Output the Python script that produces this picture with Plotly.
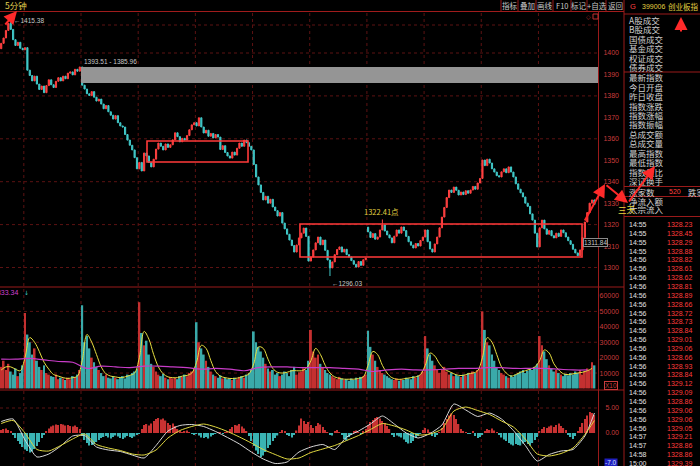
import plotly.graph_objects as go

W, H = 700, 466
def px(x): return x / W
def py(y): return 1 - y / H

# ---------------- data ----------------
first_open = 1402.0
closes = [
    1404.5, 1407.0, 1410.5, 1413.8, 1411.0, 1406.2, 1403.5, 1405.0, 1402.2, 1401.5,
    1402.5, 1392.0, 1389.5, 1387.0, 1389.2, 1385.5, 1383.0, 1384.6, 1381.5, 1384.8, 1387.5, 1385.2,
    1383.9, 1386.8, 1388.5, 1387.0, 1389.2, 1388.0, 1390.6, 1391.2, 1389.8, 1392.4, 1391.5, 1393.5,
    1385.0, 1383.2, 1381.0, 1380.2, 1382.0, 1379.4, 1377.6, 1378.5, 1376.2, 1374.0, 1375.5, 1372.6,
    1371.0, 1369.2, 1370.8, 1367.5, 1366.0, 1365.5, 1362.0, 1359.4, 1357.0, 1354.8, 1351.2, 1346.0,
    1349.0, 1345.0, 1353.4, 1352.0, 1349.0, 1346.9, 1350.5, 1355.2, 1358.0, 1356.5, 1354.8, 1357.6,
    1356.0, 1357.2, 1359.5, 1362.8, 1361.0, 1358.6, 1360.2, 1359.4, 1361.5, 1364.2, 1366.5, 1367.5,
    1366.0, 1369.8, 1365.5, 1362.7, 1364.0, 1361.2, 1362.5, 1360.4, 1362.0, 1360.8, 1355.0, 1356.8,
    1353.6, 1352.0, 1351.0, 1353.8, 1352.4, 1355.6, 1358.0, 1356.5, 1359.4, 1358.2, 1356.5, 1354.8,
    1348.0, 1342.2, 1338.5, 1335.0, 1331.5, 1333.2, 1330.0, 1331.8, 1328.2, 1326.5, 1324.0, 1325.6,
    1320.7, 1318.0, 1315.5, 1312.8, 1310.2, 1307.2, 1310.5, 1313.8, 1316.0, 1318.4, 1314.5, 1303.0,
    1304.9, 1308.2, 1311.5, 1314.2, 1310.6, 1312.8, 1308.0, 1303.5, 1299.8, 1302.6, 1306.0, 1308.4,
    1309.6, 1307.2, 1308.5, 1306.0, 1304.9, 1303.2, 1301.5, 1300.2, 1302.8, 1301.0, 1303.6, 1304.4,
    1316.6, 1314.0, 1315.8, 1313.2, 1314.2, 1317.5, 1319.8, 1317.0, 1315.2, 1313.8, 1311.5, 1314.6,
    1317.5, 1316.0, 1318.9, 1317.2, 1314.5, 1312.0, 1310.4, 1309.1, 1311.2, 1310.0, 1312.6, 1314.2,
    1317.5, 1312.0, 1308.6, 1307.2, 1311.0, 1314.2, 1318.5, 1323.5, 1328.0, 1332.6, 1336.1, 1335.0,
    1337.5, 1336.0, 1333.8, 1335.2, 1334.0, 1335.8, 1334.6, 1336.1, 1337.8, 1336.5, 1339.4, 1341.5,
    1350.1, 1347.5, 1350.5, 1348.7, 1346.0, 1344.5, 1342.8, 1342.2, 1344.6, 1346.0, 1344.2, 1346.9,
    1344.5, 1342.2, 1339.0, 1336.5, 1334.8, 1332.9, 1330.0, 1328.5, 1325.0, 1322.1, 1316.0, 1309.6,
    1318.5, 1322.1, 1318.0, 1315.5, 1317.2, 1314.8, 1313.8, 1316.0, 1314.5, 1317.5, 1316.2, 1314.2,
    1312.5, 1310.8, 1308.5, 1306.8, 1305.5, 1308.2, 1314.0, 1321.2, 1325.6, 1330.0, 1331.5, 1329.39,
]
open_gaps = {154: 1318.8}
extreme_high = {4: 1415.38, 160: 1322.41}
extreme_low = {138: 1296.03}

volumes = [
    14000, 18000, 12000, 16000, 11000, 9000, 13000, 8000, 10000, 15000,
    49000, 35000, 30000, 22000, 26000, 18000, 14000, 12000, 15000, 10000, 9000, 8000, 7500, 9000,
    6000, 7000, 6500, 5500, 7000, 6000, 8000, 7500, 9000, 12000,
    54000, 30000, 34000, 26000, 20000, 17000, 14000, 12000, 10000, 8000, 9000, 7000, 6500, 8000,
    7000, 6000, 7500, 8000, 6500, 9000, 8500, 10000, 11000, 13000,
    56000, 36000, 28000, 31000, 22000, 16000, 14000, 11000, 9000, 8000, 9500, 7000, 6000, 7500,
    6500, 7000, 6000, 8000, 7500, 9000, 8000, 10000, 11000, 12500,
    43000, 30000, 26000, 22000, 18000, 14000, 11000, 9000, 8000, 7000, 8500, 6500, 7000, 6000,
    6500, 5500, 7000, 6000, 7500, 8000, 7000, 9000, 10000, 12000,
    37000, 30000, 27000, 24000, 20000, 16000, 13000, 11000, 12000, 9000, 10000, 8000, 9000, 11000,
    10000, 8000, 12000, 14000, 9000, 10500, 11000, 13000, 12000, 18000,
    38000, 24000, 20000, 22000, 16000, 14000, 12000, 10000, 9000, 8000, 7000, 6000, 7500, 6500,
    5500, 6000, 5000, 6500, 5500, 7000, 6000, 7500, 8000, 9000,
    37500, 27000, 22000, 18000, 14000, 12000, 10000, 9000, 8000, 7000, 6000, 5500, 6500, 5000,
    6000, 5500, 7000, 6500, 6000, 8000, 7000, 8500, 9000, 11000,
    34000, 26000, 22000, 18000, 15000, 12000, 10000, 12000, 14000, 11000, 9000, 10000, 8000, 9000,
    8000, 7500, 9000, 8500, 10000, 9500, 11000, 10000, 12000, 13000,
    50000, 38000, 30000, 28000, 22000, 18000, 14000, 12000, 10000, 9000, 8000, 7000, 8500, 7500,
    9000, 10000, 11000, 12000, 10000, 11500, 13000, 12000, 14000, 16000,
    34000, 28000, 24000, 19000, 15000, 13000, 11000, 12000, 10000, 9000, 8000, 9500, 8500, 10000,
    9000, 11000, 10000, 12000, 9000, 11000, 13000, 12000, 17000, 15000,
]
vol_ma_short = [  # read every 2 bars
    12000, 14000, 14000, 12500, 11500, 20000, 33000, 30000, 24000, 17000, 12500, 9000, 8000, 7000, 6500, 7000, 8000,
    18000, 35000, 30000, 22000, 14000, 9500, 8000, 7500, 7000, 7500, 8500, 10000,
    20000, 37000, 32000, 22000, 14000, 9500, 7500, 7000, 7000, 8000, 8500, 10000,
    17000, 28000, 26000, 18000, 11000, 8000, 7000, 6500, 6500, 7000, 8000, 9500,
    16000, 27000, 26000, 19000, 13000, 10500, 10000, 10500, 11500, 11500, 11500, 13000,
    18000, 26000, 22000, 15000, 10000, 7500, 6500, 6000, 6000, 6000, 6500, 7500,
    15000, 24000, 22000, 15000, 10000, 7000, 6000, 6000, 6500, 7000, 7500, 9000,
    15000, 23000, 21000, 16000, 12500, 11000, 9500, 8500, 8500, 9500, 10000, 11500,
    20000, 33000, 30000, 22000, 14000, 10000, 8000, 9000, 10500, 11500, 12500, 14000,
    18000, 25000, 23000, 16000, 12000, 9500, 9000, 9500, 10000, 10500, 11500, 13000,
]
vol_ma_long = [  # read every 6 bars
    19000, 19000, 19500, 18500, 17500, 17000, 13000, 14500, 14000, 13500, 14500, 14500, 14000, 13500,
    12500, 13000, 12500, 11500, 13500, 14000, 14000, 13500, 13500, 13500, 13000, 12500, 11000, 12000,
    12500, 12000, 12000, 12500, 13000, 13000, 13500, 13500, 13000, 13000, 13000, 12500, 12000, 12000,
]
macd_hist = [
    0.6, 0.8, 0.9, 0.6, 0.3,
    -0.4, -1.0, -1.6, -2.2, -2.8, -3.3, -3.6, -3.9, -3.7, -3.2, -2.6, -1.8, -1.0, -0.4,
    0.4, 0.9, 1.3, 1.5, 1.7, 1.6, 1.8, 1.7, 1.5, 1.6, 1.4, 1.3, 1.5, 1.2, 0.8,
    -0.6, -1.4, -2.0, -2.5, -2.4, -2.2, -1.8, -1.4, -1.0, -0.8,
    -0.6, -0.9, -1.1, -0.8, -0.5, -0.7, -1.0, -1.2, -0.9, -0.6, -0.8, -1.0, -0.7, -0.4, -0.2,
    0.8, 1.6, 1.8,
    1.5, 1.9, 2.4, 2.8, 3.0, 2.7, 2.9, 2.5, 2.0, 1.6, 1.9, 1.4,
    0.8, 0.4, 0.2, 0.3, 0.5, 0.2, -0.1, -0.3, -0.2,
    -0.5, -0.9, -1.0, -0.8, -1.1, -0.7, -0.4, -0.2,
    0.1, 0.2, -0.1, 0.2, 0.4,
    0.8, 1.2, 1.6, 1.5, 1.8, 1.3, 0.9, 0.4,
    -0.6, -1.6, -2.6, -3.5, -4.2, -4.8, -4.5, -3.8, -3.0, -2.4, -1.6, -1.0, -0.5, 0.2,
    0.6, 0.4, -0.3, -0.6, -0.9, -0.4, 0.5,
    1.5, 2.9, 2.4, 1.8, 2.2, 1.6, 1.0,
    1.4, 2.0, 1.7, 1.2, 0.6, 0.2, -0.3,
    -0.5, 0.3, 0.6, 0.2, -0.4, -1.2, -1.5, -0.8, -0.3, 0.4, 0.5, 0.2, -0.2, 0.3,
    0.8, 1.6, 2.2, 2.6, 3.0, 3.2, 2.9, 2.4, 2.0, 1.4, 0.8,
    -0.4, -0.8, -0.5, -0.7, -0.9, -1.3,
    -1.8, -2.1, -2.0, -1.6, -1.0, -0.6, -0.2,
    0.6, 1.0, 0.7, 0.2,
    -0.6, -0.8, -0.4, 0.2,
    1.0, 2.0, 2.8, 3.5, 3.9, 3.6, 2.8, 1.8,
    0.8, 0.4, 0.2, -0.2, -0.1, 0.3,
    -0.6, -1.0, -0.8, -0.3, 0.4, 0.8, 0.6,
    0.9, 0.5, 0.1,
    -0.4, -0.9, -1.3, -1.6, -2.0, -2.3, -2.5, -2.2, -2.4, -2.5, -2.1, -1.8, -2.2, -2.5, -2.0, -1.4, -0.8,
    0.3, 0.8, 1.2, 1.0, 1.3, 1.5, 1.2, 1.6, 1.9, 1.4, 1.0, 0.6,
    -0.3, -0.8, -1.2, -0.6,
    0.4, 1.2, 2.0, 2.8, 3.5, 4.2, 4.0, 3.6,
]
dif_line = [  # read every 5 bars, plus the last bar
    2.3, 2.8, -1.4, -4.8, -4.2, -2.6, -0.6, -0.5, -2.8, -3.4,
    -3.7, -4.4, -5.0, -2.5, 0.4, 1.5, 1.7, 1.3, 0.3, -0.9,
    -2.2, -3.8, -5.2, -6.1, -5.8, -3.8, -2.8, -2.3, -3.3, -0.8,
    0.4, 1.8, 3.4, 1.8, 0.0, -1.0, -0.1, 1.6, 5.8, 4.6,
    3.3, 4.0, 2.8, 0.5, -2.5, -5.6, -4.3, -3.6, -3.3, -0.6, 4.0,
]
dea_line = [
    1.9, 2.5, 0.0, -3.3, -3.6, -2.5, -1.2, -0.2, -2.3, -3.0,
    -3.5, -4.2, -4.4, -3.4, -1.0, 0.5, 1.3, 1.8, 1.2, 0.3,
    -0.8, -2.0, -3.3, -4.3, -5.2, -5.0, -3.9, -3.2, -2.5, -1.5,
    -0.5, 0.7, 1.9, 1.4, 0.6, -0.4, -0.2, 0.8, 4.4, 5.2,
    4.5, 3.7, 2.4, 1.2, -1.2, -4.2, -4.6, -4.1, -3.0, -0.3, 2.5,
]
band_low, band_high = 1385.96, 1393.51
box1 = (1349.2, 1359.0)
box2 = (1304.9, 1320.3)
price_ticks = [1300, 1310, 1320, 1330, 1340, 1350, 1360, 1370, 1380, 1390, 1400]
vol_ticks = [10000, 20000, 30000, 40000, 50000, 60000]
macd_ticks = [0, 5]
toolbar = ["指标", "叠加", "画线", "F10", "标记", "+自选", "返回"]
panel_group1 = ["A股成交", "B股成交", "国债成交", "基金成交", "权证成交", "债券成交"]
panel_group2 = ["最新指数", "今日开盘", "昨日收盘", "指数涨跌", "指数涨幅", "指数振幅",
                "总成交额", "总成交量", "最高指数", "最低指数", "指数量比", "深证换手"]
rise_count = "520"
tick_times = ["14:55"] * 4 + ["14:56"] * 20 + ["14:57", "14:57", "14:58", "15:00"]
tick_prices = ["1328.23", "1328.45", "1328.29", "1328.88", "1328.82", "1328.61", "1328.62",
               "1328.81", "1328.89", "1328.66", "1328.72", "1328.73", "1328.84", "1329.01",
               "1329.06", "1328.66", "1328.93", "1328.84", "1329.12", "1329.09", "1328.86",
               "1329.06", "1329.06", "1329.05", "1329.21", "1328.86", "1328.86", "1329.39"]

# ---------------- derived ----------------
n = len(closes)
idx = list(range(n))
opens = [first_open] + closes[:-1]
for k, v in open_gaps.items():
    opens[k] = v
highs = [max(o, c) for o, c in zip(opens, closes)]
lows = [min(o, c) for o, c in zip(opens, closes)]
for k, v in extreme_high.items():
    highs[k] = v
for k, v in extreme_low.items():
    lows[k] = v
up = [c >= o for o, c in zip(opens, closes)]

RED = "#ff4040"
CYAN = "#40c8c8"
BORDER = "#9a1a1a"
GRID = "#5c1212"

fig = go.Figure()
fig.add_trace(go.Candlestick(
    x=idx, open=opens, high=highs, low=lows, close=closes,
    increasing=dict(line=dict(color=RED, width=1), fillcolor=RED),
    decreasing=dict(line=dict(color=CYAN, width=1), fillcolor=CYAN),
    whiskerwidth=0, showlegend=False, hoverinfo="skip", xaxis="x", yaxis="y"))

fig.add_trace(go.Bar(
    x=list(range(len(volumes))), y=volumes, width=0.8,
    marker=dict(color=["#c43030" if u else "#3aaaaa" for u in up], line=dict(width=0)),
    showlegend=False, hoverinfo="skip", xaxis="x2", yaxis="y2"))
fig.add_trace(go.Scatter(
    x=list(range(0, 2 * len(vol_ma_short), 2)), y=vol_ma_short, mode="lines",
    line=dict(color="#e8e040", width=1, shape="spline"), showlegend=False,
    hoverinfo="skip", xaxis="x2", yaxis="y2"))
fig.add_trace(go.Scatter(
    x=list(range(0, 6 * len(vol_ma_long), 6)), y=vol_ma_long, mode="lines",
    line=dict(color="#c83cc8", width=1.2, shape="spline"), showlegend=False,
    hoverinfo="skip", xaxis="x2", yaxis="y2"))

fig.add_trace(go.Bar(
    x=list(range(len(macd_hist))), y=macd_hist, width=0.55,
    marker=dict(color=["#c83232" if v >= 0 else "#3ab4b4" for v in macd_hist], line=dict(width=0)),
    showlegend=False, hoverinfo="skip", xaxis="x3", yaxis="y3"))
line_x = list(range(0, 250, 5)) + [n - 1]
fig.add_trace(go.Scatter(
    x=line_x, y=dif_line, mode="lines", line=dict(color="#d8d8d8", width=1, shape="spline", smoothing=0.6),
    showlegend=False, hoverinfo="skip", xaxis="x3", yaxis="y3"))
fig.add_trace(go.Scatter(
    x=line_x, y=dea_line, mode="lines", line=dict(color="#e0d840", width=1, shape="spline", smoothing=0.6),
    showlegend=False, hoverinfo="skip", xaxis="x3", yaxis="y3"))

bar_px = 598 / (n + 1)
x_range = [-0.5, 622 / bar_px - 0.5]
tickfont = dict(family="Liberation Sans", size=7, color="#c83c3c")
xcommon = dict(domain=[0, px(622)], range=x_range, visible=False, fixedrange=True)
ycommon = dict(side="right", ticklabelposition="inside", ticks="", showgrid=False,
               zeroline=False, showline=False, tickfont=tickfont, fixedrange=True)

fig.update_layout(
    width=W, height=H, autosize=False,
    margin=dict(l=0, r=0, t=0, b=0, pad=0),
    paper_bgcolor="black", plot_bgcolor="black",
    font=dict(family="Noto Sans CJK SC", color="#d0d0d0"),
    xaxis=dict(xcommon, anchor="y", rangeslider=dict(visible=False)),
    xaxis2=dict(xcommon, anchor="y2", matches="x"),
    xaxis3=dict(xcommon, anchor="y3", matches="x"),
    yaxis=dict(ycommon, anchor="x", domain=[py(287), py(12)],
               range=[1300 - 19.5 / 2.145, 1400 + 41 / 2.145],
               tickvals=price_ticks, ticktext=[str(v) for v in price_ticks]),
    yaxis2=dict(ycommon, anchor="x2", domain=[py(390), py(287)], range=[-1000, 65850],
                tickvals=vol_ticks, ticktext=[str(v) for v in vol_ticks]),
    yaxis3=dict(ycommon, anchor="x3", domain=[0, py(390)], range=[-6.6, 8.6],
                tickvals=macd_ticks, ticktext=["%.2f" % v for v in macd_ticks]),
    showlegend=False,
)

shapes = []
# vertical day grid
for k in range(10):
    b = 9.5 + 24 * k
    shapes.append(dict(type="line", xref="x", yref="paper", x0=b, x1=b, y0=0, y1=py(12),
                       line=dict(color=GRID, width=1, dash="dot"), layer="below"))
for v in [1300, 1320, 1340, 1360, 1380, 1400]:
    shapes.append(dict(type="line", xref="paper", yref="y", x0=0, x1=px(598), y0=v, y1=v,
                       line=dict(color=GRID, width=1, dash="dot"), layer="below"))
shapes.append(dict(type="line", xref="paper", yref="paper", x0=0, x1=px(598), y0=py(25), y1=py(25),
                   line=dict(color=GRID, width=1, dash="dot"), layer="below"))
for v in [10000, 30000, 50000]:
    shapes.append(dict(type="line", xref="paper", yref="y2", x0=0, x1=px(598), y0=v, y1=v,
                       line=dict(color=GRID, width=1, dash="dot"), layer="below"))
shapes.append(dict(type="line", xref="paper", yref="y3", x0=0, x1=px(598), y0=5, y1=5,
                   line=dict(color=GRID, width=1, dash="dot"), layer="below"))
# grey band
shapes.append(dict(type="rect", xref="x", yref="y", x0=33.5, x1=n + 0.5, y0=band_low, y1=band_high,
                   fillcolor="#959595", line=dict(width=0), layer="above"))
# red boxes
shapes.append(dict(type="rect", xref="x", yref="y", x0=61.2, x1=103.6, y0=box1[0], y1=box1[1],
                   line=dict(color="#ff3a3a", width=1.6), fillcolor="rgba(0,0,0,0)"))
shapes.append(dict(type="rect", xref="x", yref="y", x0=125.4, x1=243.8, y0=box2[0], y1=box2[1],
                   line=dict(color="#ff3a3a", width=1.6), fillcolor="rgba(0,0,0,0)"))
# frame lines
def hline(y, x0, x1, color=BORDER, w=1):
    shapes.append(dict(type="line", xref="paper", yref="paper", x0=px(x0), x1=px(x1),
                       y0=py(y), y1=py(y), line=dict(color=color, width=w)))
def vline(x, y0, y1, color=BORDER, w=1):
    shapes.append(dict(type="line", xref="paper", yref="paper", x0=px(x), x1=px(x),
                       y0=py(y0), y1=py(y1), line=dict(color=color, width=w)))
hline(11.5, 0, 624, "#a01c1c")
hline(287, 0, 624)
hline(390, 0, 624)
vline(598.5, 11.5, 466)
vline(624, 0, 466)
for y in [14, 72, 186.5, 196.5, 216.5]:
    hline(y, 624, 700)
for x in [501, 518, 536, 553, 571, 587, 606]:
    vline(x, 0, 11.5)
# small icon box top right of chart
shapes.append(dict(type="rect", xref="paper", yref="paper", x0=px(593), x1=px(598), y0=py(19), y1=py(14),
                   line=dict(color="#c03030", width=1), fillcolor="rgba(0,0,0,0)"))
fig.update_layout(shapes=shapes)

ann = []
def text(x, y, t, size=8.5, color="#d0d0d0", xanchor="left", family="Noto Sans CJK SC", **kw):
    ann.append(dict(xref="paper", yref="paper", x=px(x), y=py(y), text=t, showarrow=False,
                    xanchor=xanchor, yanchor="middle", font=dict(size=size, color=color, family=family), **kw))

text(3, 5.5, "5分钟", size=8.5, color="#e0d050")
for t, cx in zip(toolbar, [509.5, 527, 544.5, 562, 579, 596.5, 615]):
    text(cx, 5.5, t, size=7.5, color="#c8c8c8", xanchor="center")
text(588, 16, "◇", size=6, color="#c03030", xanchor="center", family="DejaVu Sans")
text(628, 7, "G", size=7.5, color="#ff4040", family="Liberation Sans")
text(641, 7, "399006", size=7, color="#e0d040", family="Liberation Sans", borderpad=0)
text(700, 7, "创业板指", size=7.5, color="#e0d040", xanchor="right", borderpad=0)
for k, t in enumerate(panel_group1):
    text(627, 20 + 9.4 * k, t)
for k, t in enumerate(panel_group2):
    text(627, 77.3 + 9.43 * k, t)
text(627, 191.5, "涨家数")
text(683, 191.5, rise_count, size=7, color="#ff4040", xanchor="right", family="Liberation Sans")
text(686, 191.5, "跌家数")
text(627, 200.5, "净流入额")
text(627, 209.5, "大宗流入")
text(616, 209.5, "三天", color="#e8d840")
for k, (tm, pr) in enumerate(zip(tick_times, tick_prices)):
    yy = 224.5 + 8.85 * k
    text(627, yy, tm, size=7, color="#e0e0e0", family="Liberation Sans")
    text(694, yy, pr, size=7, color="#ff3c3c", xanchor="right", family="Liberation Sans")
text(611, 385, "X10", size=6.5, color="#c83c3c", xanchor="center", family="Liberation Sans",
     bordercolor="#c83c3c", borderwidth=1, borderpad=0)
text(611, 462, "-7.0", size=6.5, color="#d0e0ff", xanchor="center", family="Liberation Sans",
     bgcolor="#2020c0", borderpad=0)
text(20, 292, "2333.34", size=7, color="#d040d0", xanchor="right", family="Liberation Sans")
text(22, 292, "↓", size=6, color="#40c8c8", family="DejaVu Sans")

# data-anchored labels
ann.append(dict(xref="x", yref="y", x=4, y=1415.38, text="←1415.38", showarrow=False, xanchor="left",
                xshift=1, font=dict(size=6.5, color="#c8c8c8", family="Liberation Sans")))
ann.append(dict(xref="x", yref="y", x=33.8, y=band_high, text="1393.51 - 1385.96", showarrow=False,
                xanchor="left", yanchor="bottom", font=dict(size=6.5, color="#c8c8c8", family="Liberation Sans")))
ann.append(dict(xref="x", yref="y", x=159.5, y=1322.41, text="1322.41点", showarrow=False,
                xanchor="center", yanchor="bottom", font=dict(size=7.5, color="#e0d040")))
ann.append(dict(xref="x", yref="y", x=138, y=1296.03, text="←1296.03", showarrow=False, xanchor="left",
                yanchor="top", yshift=-2, font=dict(size=6.5, color="#c8c8c8", family="Liberation Sans")))
ann.append(dict(xref="x", yref="y", x=244.3, y=1311.84, text="1311.84", showarrow=False, xanchor="left",
                bgcolor="black", bordercolor="#8a8a8a", borderwidth=1, borderpad=0,
                font=dict(size=6.5, color="#c8c8c8", family="Liberation Sans")))

# hand-drawn red arrows
def arrow(tx, ty, hx, hy):
    ann.append(dict(xref="paper", yref="paper", x=px(hx), y=py(hy), ax=tx - hx, ay=ty - hy,
                    text="", showarrow=True, arrowhead=2, arrowsize=1.3, arrowwidth=2,
                    arrowcolor="#ff2a2a", standoff=0, startstandoff=0))
arrow(4, 26, 17, 11)
arrow(681, 33, 681, 17)
arrow(584, 222, 605, 184)
arrow(605, 184, 628, 203)
arrow(628, 203, 655, 166)

fig.update_layout(annotations=ann)
fig.write_html(
    "out.html",
    config={"displayModeBar": False},
    post_script="document.body.style.margin='0';document.body.style.padding='0';"
                "document.body.style.background='black';",
)
